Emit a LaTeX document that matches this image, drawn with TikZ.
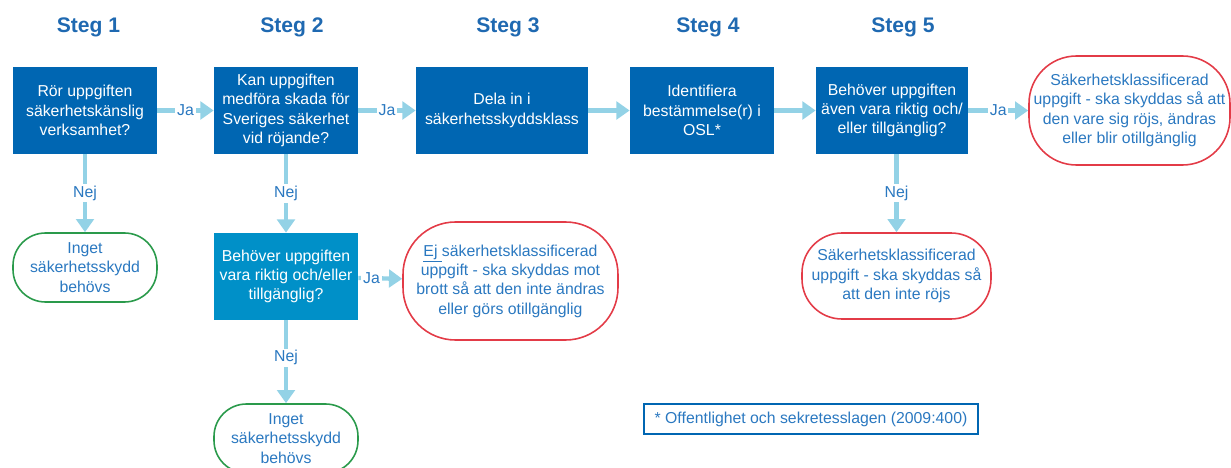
\documentclass[tikz,border=0pt]{standalone}
\usepackage{fontspec}
\setmainfont{Liberation Sans}
\usetikzlibrary{arrows.meta}

\definecolor{stegblue}{HTML}{0066B2}
\definecolor{ljusblue}{HTML}{0090C8}
\definecolor{pilblue}{HTML}{93D2E6}
\definecolor{textblue}{HTML}{2A78C0}
\definecolor{rubrikblue}{HTML}{1F69B1}
\definecolor{svargreen}{HTML}{2A9A4B}
\definecolor{svarred}{HTML}{E33B47}

\tikzset{
  rubrik/.style={text=rubrikblue, font=\bfseries\fontsize{12}{14}\selectfont},
  fraga/.style={fill=stegblue, text=white, minimum width=2.88cm, minimum height=1.74cm,
    align=center, inner sep=1pt, font=\fontsize{9}{11}\selectfont},
  svar/.style={draw, line width=0.9pt, text=textblue, align=center, inner sep=1pt,
    font=\fontsize{9}{11}\selectfont},
  nej/.style={svar, draw=svargreen, minimum width=2.88cm, minimum height=1.38cm, rounded corners=0.65cm},
  ja/.style={svar, draw=svarred},
  pil/.style={draw=pilblue, line width=2.5pt, -{Triangle[width=10pt,length=7.5pt]}},
  etikett/.style={fill=white, text=textblue, inner sep=1pt, font=\fontsize{9}{11}\selectfont}
}

\begin{document}
\begin{tikzpicture}
  \useasboundingbox (0,0) rectangle (24.62,-9.36);

  % rubriker
  \node[rubrik] (steg1) at (1.77,-0.54) {Steg 1};
  \node[rubrik] (steg2) at (5.84,-0.54) {Steg 2};
  \node[rubrik] (steg3) at (10.16,-0.54) {Steg 3};
  \node[rubrik] (steg4) at (14.16,-0.54) {Steg 4};
  \node[rubrik] (steg5) at (18.06,-0.54) {Steg 5};

  % frågor
  \node[fraga] (ror) at (1.70,-2.21) {Rör uppgiften\\säkerhetskänslig\\verksamhet?};
  \node[fraga] (skada) at (5.72,-2.21) {Kan uppgiften\\medföra skada för\\Sveriges säkerhet\\vid röjande?};
  \node[fraga, minimum width=3.44cm] (klass) at (10.04,-2.21) {Dela in i\\säkerhetsskyddsklass};
  \node[fraga] (osl) at (14.04,-2.21) {Identifiera\\bestämmelse(r) i\\OSL*};
  \node[fraga, minimum width=3.04cm] (aven) at (17.84,-2.21) {Behöver uppgiften\\även vara riktig och/\\eller tillgänglig?};
  \node[fraga, fill=ljusblue] (riktig) at (5.72,-5.53) {Behöver uppgiften\\vara riktig och/eller\\tillgänglig?};

  % svar
  \node[ja, minimum width=4.02cm, minimum height=2.18cm, rounded corners=0.95cm] (klassad) at (22.59,-2.21)
    {Säkerhetsklassificerad\\uppgift - ska skyddas så att\\den vare sig röjs, ändras\\eller blir otillgänglig};
  \node[nej] (inget1) at (1.70,-5.35) {Inget\\säkerhetsskydd\\behövs};
  \node[nej] (inget2) at (5.72,-8.77) {Inget\\säkerhetsskydd\\behövs};
  \node[ja, minimum width=4.30cm, minimum height=2.36cm, rounded corners=1.05cm] (ejklassad) at (10.21,-5.62)
    {\underline{Ej\ }säkerhetsklassificerad\\uppgift - ska skyddas mot\\brott så att den inte ändras\\eller görs otillgänglig};
  \node[ja, minimum width=3.78cm, minimum height=1.72cm, rounded corners=0.8cm] (rojs) at (17.93,-5.52)
    {Säkerhetsklassificerad\\uppgift - ska skyddas så\\att den inte röjs};

  \node[draw=stegblue, line width=0.7pt, text=textblue, minimum width=6.68cm, minimum height=0.60cm,
    font=\fontsize{9}{11}\selectfont] (fotnot) at (16.22,-8.38) {* Offentlighet och sekretesslagen (2009:400)};

  % pilar
  \draw[pil] (ror) -- node[etikett] {Ja} (skada);
  \draw[pil] (skada) -- node[etikett] {Ja} (klass);
  \draw[pil] (klass) -- (osl);
  \draw[pil] (osl) -- (aven);
  \draw[pil] (aven) -- node[etikett] {Ja} (klassad);
  \draw[pil] (riktig) -- node[etikett, pos=0.3] {Ja} (ejklassad);
  \draw[pil] (ror) -- node[etikett] {Nej} (inget1);
  \draw[pil] (skada) -- node[etikett] {Nej} (riktig);
  \draw[pil] (riktig) -- node[etikett, pos=0.45] {Nej} (inget2);
  \draw[pil] (rojs |- aven.south) -- node[etikett] {Nej} (rojs.north);
\end{tikzpicture}
\end{document}
